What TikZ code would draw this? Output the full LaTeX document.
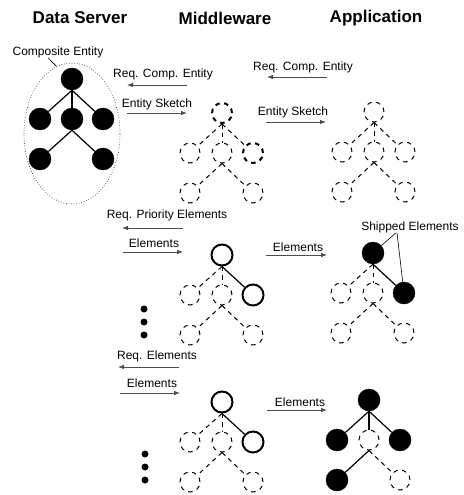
\documentclass[tikz,border=0pt]{standalone}
\usepackage{fontspec}
\setmainfont{Liberation Sans}
\usetikzlibrary{arrows.meta,shapes.geometric}

\tikzset{
  full/.style={circle,draw,fill=black,minimum size=22pt,inner sep=0pt},
  sketch/.style={circle,draw,line width=1pt,dash pattern=on 4.5pt off 4.5pt,minimum size=20pt,inner sep=0pt},
  boldsketch/.style={sketch,line width=2pt},
  sent/.style={circle,draw,line width=2pt,minimum size=21pt,inner sep=0pt},
  link/.style={line width=1.2pt},
  dlink/.style={line width=1pt,dash pattern=on 4.5pt off 4pt},
  msg/.style={draw=black!70,line width=0.8pt,-{Latex[length=6pt,width=4.5pt]}},
  lbl/.style={inner sep=0pt,font=\fontsize{12}{14}\selectfont},
  ttl/.style={inner sep=0pt,font=\bfseries\fontsize{17}{20}\selectfont},
  dot/.style={circle,fill=black,inner sep=0pt,minimum size=7pt},
}

% six elements of an entity: prefix, root x, root y, then one style per element
\newcommand{\entity}[9]{%
  \node[#4] (#1r) at (#2,#3) {};
  \path (#2,#3) ++(-32,40) node[#5] (#1a) {};
  \path (#2,#3) ++(0,40) node[#6] (#1b) {};
  \path (#2,#3) ++(31,40) node[#7] (#1c) {};
  \path (#2,#3) ++(-32,80) node[#8] (#1d) {};
  \path (#2,#3) ++(31,80) node[#9] (#1e) {};
}
% links of an entity: prefix, then one style per link
\newcommand{\entitylinks}[6]{%
  \draw[#2] (#1r.south) -- (#1a);
  \draw[#3] (#1r.south) -- (#1b);
  \draw[#4] (#1r.south) -- (#1c);
  \draw[#5] (#1b.south) -- (#1d);
  \draw[#6] (#1b.south) -- (#1e);
}

\begin{document}
\begin{tikzpicture}[x=1pt,y=1pt,yscale=-1,xscale=1]
\useasboundingbox (0,0) rectangle (463,495);

% column titles
\node[ttl] (server) at (80,18) {Data Server};
\node[ttl] (middle) at (225,18) {Middleware};
\node[ttl] (appl) at (376,18) {Application};

% composite entity on the data server
\node[ellipse,draw,dotted,line width=0.6pt,minimum width=96pt,minimum height=141pt,inner sep=0pt] (composite) at (72,133.5) {};
\node[lbl] (complbl) at (58,52) {Composite Entity};
\draw[line width=0.6pt] ([xshift=-10pt]complbl.south) -- (composite.103);
\entity{s}{72}{79}{full}{full}{full}{full}{full}{full}
\entitylinks{s}{link}{link}{link}{link}{link}

% entity sketch
\entity{ma}{222}{113}{boldsketch}{sketch}{sketch}{boldsketch}{sketch}{sketch}
\entitylinks{ma}{dlink}{dlink}{dlink}{dlink}{dlink}
\entity{aa}{374}{112}{sketch}{sketch}{sketch}{sketch}{sketch}{sketch}
\entitylinks{aa}{dlink}{dlink}{dlink}{dlink}{dlink}

% priority elements
\entity{mb}{222}{255}{sent}{sketch}{sketch}{sent}{sketch}{sketch}
\entitylinks{mb}{dlink}{dlink}{link}{dlink}{dlink}
\entity{ab}{373}{253}{full}{sketch}{sketch}{full}{sketch}{sketch}
\entitylinks{ab}{dlink}{dlink}{link}{dlink}{dlink}
\node[lbl] (shiplbl) at (410,227) {Shipped Elements};
\draw[line width=0.6pt] ([xshift=-14pt]shiplbl.south) -- (abr);
\draw[line width=0.6pt] ([xshift=-13pt]shiplbl.south) -- (abc);

% further elements
\entity{mc}{222}{402}{sent}{sketch}{sketch}{sent}{sketch}{sketch}
\entitylinks{mc}{dlink}{dlink}{link}{dlink}{dlink}
\entity{ac}{369}{400}{full}{full}{sketch}{full}{full}{sketch}
\entitylinks{ac}{link}{link}{link}{link}{dlink}

% more rounds
\foreach \y [count=\i] in {309,322,335} \node[dot] (dota\i) at (144,\y) {};
\foreach \y [count=\i] in {454,467,480} \node[dot] (dotb\i) at (145,\y) {};

% messages
\node[lbl] (req1) at (163,74) {Req. Comp. Entity};
\coordinate (req1a) at (187,85); \coordinate (req1b) at (127,85);
\draw[msg] (req1a) -- (req1b);
\node[lbl] (req2) at (303,67) {Req. Comp. Entity};
\coordinate (req2a) at (327,77); \coordinate (req2b) at (267,77);
\draw[msg] (req2a) -- (req2b);
\node[lbl] (sk1) at (157,104) {Entity Sketch};
\coordinate (sk1a) at (127,113); \coordinate (sk1b) at (187,113);
\draw[msg] (sk1a) -- (sk1b);
\node[lbl] (sk2) at (293,112) {Entity Sketch};
\coordinate (sk2a) at (266,122); \coordinate (sk2b) at (326,122);
\draw[msg] (sk2a) -- (sk2b);

\node[lbl] (req3) at (167,215) {Req. Priority Elements};
\coordinate (req3a) at (183,228); \coordinate (req3b) at (122,228);
\draw[msg] (req3a) -- (req3b);
\node[lbl] (el1) at (154,243) {Elements};
\coordinate (el1a) at (123,252); \coordinate (el1b) at (183,252);
\draw[msg] (el1a) -- (el1b);
\node[lbl] (el2) at (298,247) {Elements};
\coordinate (el2a) at (266,255); \coordinate (el2b) at (327,255);
\draw[msg] (el2a) -- (el2b);

\node[lbl] (req4) at (157,356) {Req. Elements};
\coordinate (req4a) at (179,367); \coordinate (req4b) at (118,367);
\draw[msg] (req4a) -- (req4b);
\node[lbl] (el3) at (152,383) {Elements};
\coordinate (el3a) at (120,393); \coordinate (el3b) at (180,393);
\draw[msg] (el3a) -- (el3b);
\node[lbl] (el4) at (300,402) {Elements};
\coordinate (el4a) at (267,410); \coordinate (el4b) at (327,410);
\draw[msg] (el4a) -- (el4b);

\end{tikzpicture}
\end{document}
